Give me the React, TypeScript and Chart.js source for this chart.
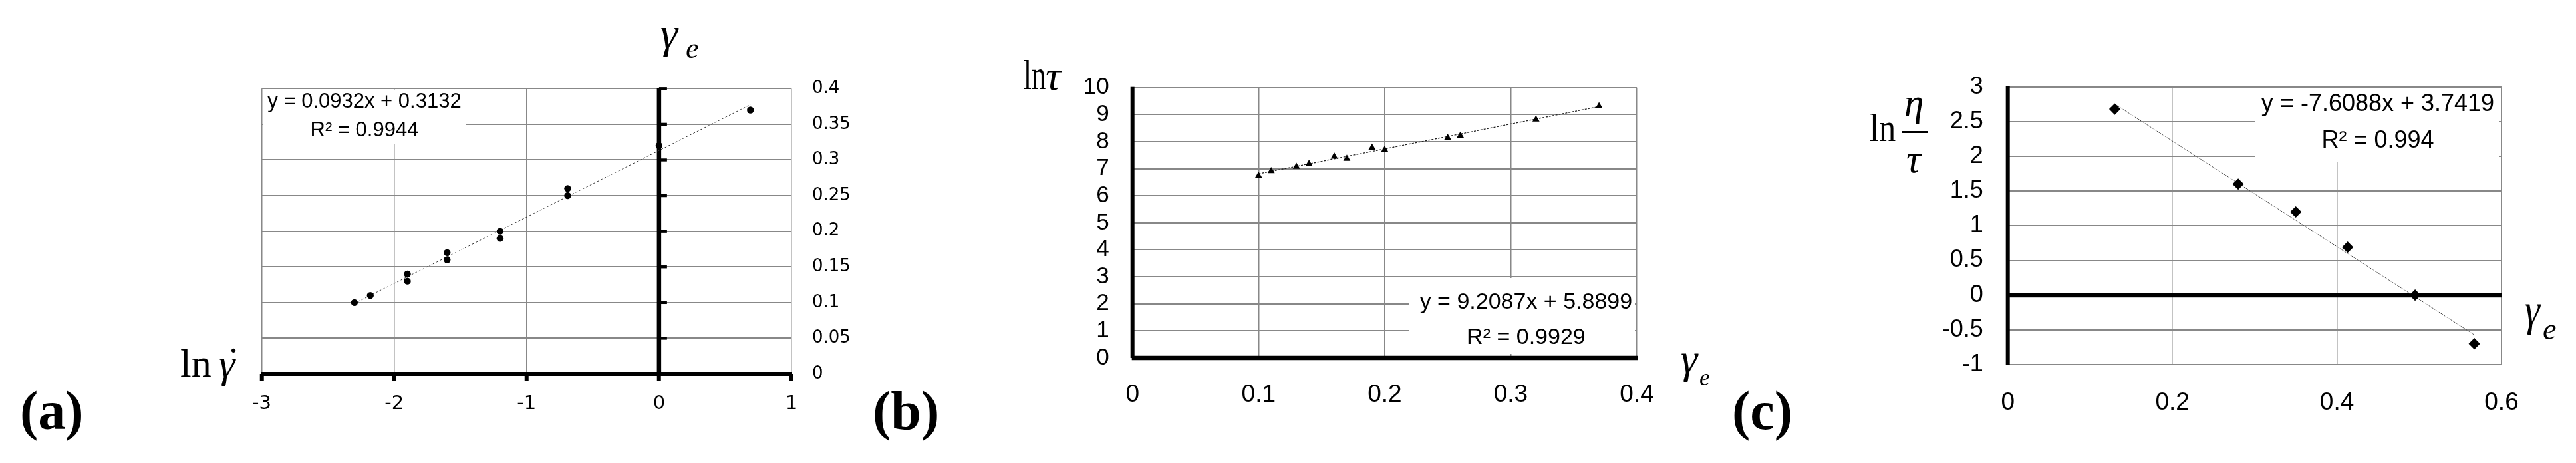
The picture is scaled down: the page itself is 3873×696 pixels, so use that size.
import React, { useEffect, useRef } from 'react';
import { Chart, registerables } from 'chart.js';

Chart.register(...registerables);

// ---------------- data ----------------
// (a) ln(shear rate) vs gamma_e
const lnShearRate = [-2.3, -2.18, -1.9, -1.9, -1.6, -1.6, -1.2, -1.2, -0.69, -0.69, 0, 0.69];
const gammaA = [0.1, 0.11, 0.13, 0.14, 0.16, 0.17, 0.19, 0.2, 0.25, 0.26, 0.32, 0.37];
const trendA = [0.0932, 0.3132];
const eqA = ['y = 0.0932x + 0.3132', 'R² = 0.9944'];
const xAxisA = [-3, 1, 1];
const yAxisA = [0, 0.4, 0.05];

// (b) gamma_e vs ln(tau)
const gammaB = [0.1, 0.11, 0.13, 0.14, 0.16, 0.17, 0.19, 0.2, 0.25, 0.26, 0.32, 0.37];
const lnTau = [6.74, 6.91, 7.07, 7.18, 7.45, 7.37, 7.78, 7.7, 8.14, 8.22, 8.82, 9.31];
const trendB = [9.2087, 5.8899];
const eqB = ['y = 9.2087x + 5.8899', 'R² = 0.9929'];
const xAxisB = [0, 0.4, 0.1];
const yAxisB = [0, 10, 1];

// (c) gamma_e vs ln(eta/tau)
const gammaC = [0.13, 0.28, 0.35, 0.413, 0.495, 0.567];
const lnEtaTau = [2.68, 1.6, 1.2, 0.69, 0.0, -0.7];
const trendC = [-7.6088, 3.7419];
const eqC = ['y = -7.6088x + 3.7419', 'R² = 0.994'];
const xAxisC = [0, 0.6, 0.2];
const yAxisC = [-1, 3, 0.5];

// ---------------- helpers ----------------
const GRID = '#888888';
const SANS = '"Liberation Sans", Arial, sans-serif';
const DEJAVU = '"DejaVu Sans", sans-serif';
const SERIF = '"Liberation Serif", "Times New Roman", serif';

const fmt = (v: any) => String(Math.round(Number(v) * 1000) / 1000);

type Spec = {
  width: number;
  xs: number[];
  ys: number[];
  trend: number[];
  eq: string[];
  xAxis: number[];
  yAxis: number[];
  yPos: 'left' | 'right';
  pad: { left: number; right: number; top: number; bottom: number };
  xH: number;
  yW: number;
  xFont: { family: string; size: number };
  yFont: { family: string; size: number };
  xPad: number;
  yPad: number;
  xTickMarks: boolean;
  pointStyle: string;
  pointRadius: number;
  trendStyle: { color: string; width: number; dash: number[] };
  vAxis: { at: number; w: number };
  hAxis: { at: number; w: number };
  yAxisMarks: boolean;
  eqFont: number;
  eqCx: number;
  eqYs: number[];
  eqBox: number[];
};

const overlay = (s: Spec) => ({
  id: 'overlay',
  beforeDatasetsDraw(chart: any) {
    const { ctx, chartArea: ca, scales } = chart;
    const xS = scales.x;
    const yS = scales.y;
    ctx.save();
    // trend-line equation box
    const [bx0, by0, bx1, by1] = s.eqBox;
    ctx.fillStyle = '#ffffff';
    ctx.fillRect(bx0, by0, bx1 - bx0, by1 - by0);
    ctx.fillStyle = '#000000';
    ctx.font = `${s.eqFont}px ${SANS}`;
    ctx.textAlign = 'center';
    ctx.textBaseline = 'middle';
    s.eq.forEach((t, i) => ctx.fillText(t, s.eqCx, s.eqYs[i]));
    // thick axes
    const x0 = xS.getPixelForValue(s.vAxis.at);
    const y0 = yS.getPixelForValue(s.hAxis.at);
    ctx.fillRect(x0 - s.vAxis.w / 2, ca.top - 1, s.vAxis.w, ca.bottom - ca.top + 1);
    ctx.fillRect(ca.left - 1, y0 - s.hAxis.w / 2, ca.right - ca.left + 2, s.hAxis.w);
    if (s.yAxisMarks) {
      yS.ticks.forEach((t: any) => {
        if (t.value === s.hAxis.at) return;
        const y = yS.getPixelForValue(t.value);
        ctx.fillRect(x0, y - 2.2, 12, 4.4);
      });
    }
    ctx.restore();
  },
});

function config(s: Spec): any {
  const minX = Math.min(...s.xs);
  const maxX = Math.max(...s.xs);
  const zeroPad = (sc: any) => {
    sc.paddingLeft = 0;
    sc.paddingRight = 0;
    sc.paddingTop = 0;
    sc.paddingBottom = 0;
  };
  return {
    type: 'scatter',
    data: {
      datasets: [
        {
          data: s.xs.map((x, i) => ({ x, y: s.ys[i] })),
          pointStyle: s.pointStyle,
          pointRadius: s.pointRadius,
          pointBackgroundColor: '#000',
          pointBorderColor: '#000',
          pointBorderWidth: 0,
          showLine: false,
        },
        {
          data: [minX, maxX].map((x) => ({ x, y: s.trend[0] * x + s.trend[1] })),
          showLine: true,
          borderColor: s.trendStyle.color,
          borderWidth: s.trendStyle.width,
          borderDash: s.trendStyle.dash,
          pointRadius: 0,
          fill: false,
        },
      ],
    },
    options: {
      responsive: false,
      animation: false,
      events: [],
      layout: { padding: s.pad, autoPadding: false },
      plugins: { legend: { display: false }, tooltip: { enabled: false } },
      scales: {
        x: {
          type: 'linear',
          position: 'bottom',
          min: s.xAxis[0],
          max: s.xAxis[1],
          ticks: {
            stepSize: s.xAxis[2],
            callback: fmt,
            color: '#000',
            font: s.xFont,
            padding: s.xPad,
            autoSkip: false,
            maxRotation: 0,
          },
          grid: {
            color: GRID,
            lineWidth: 1.5,
            drawTicks: s.xTickMarks,
            tickLength: 10,
            tickWidth: 6,
            tickColor: '#000',
          },
          border: { display: false },
          afterFit: (sc: any) => {
            sc.height = s.xH;
            zeroPad(sc);
          },
        },
        y: {
          type: 'linear',
          position: s.yPos,
          min: s.yAxis[0],
          max: s.yAxis[1],
          ticks: {
            stepSize: s.yAxis[2],
            callback: fmt,
            color: '#000',
            font: s.yFont,
            padding: s.yPad,
            autoSkip: false,
          },
          grid: { color: GRID, lineWidth: 2, drawTicks: false },
          border: { display: false },
          afterFit: (sc: any) => {
            sc.width = s.yW;
            zeroPad(sc);
          },
        },
      },
    },
    plugins: [overlay(s)],
  };
}

const specA: Spec = {
  width: 1050,
  xs: lnShearRate,
  ys: gammaA,
  trend: trendA,
  eq: eqA,
  xAxis: xAxisA,
  yAxis: yAxisA,
  yPos: 'right',
  pad: { left: 143.5, right: 10, top: 133.3, bottom: 14 },
  xH: 120,
  yW: 100,
  xFont: { family: DEJAVU, size: 29 },
  yFont: { family: DEJAVU, size: 26 },
  xPad: 17.6,
  yPad: 31,
  xTickMarks: true,
  pointStyle: 'circle',
  pointRadius: 5.2,
  trendStyle: { color: '#333', width: 1, dash: [3, 3] },
  vAxis: { at: 0, w: 6.5 },
  hAxis: { at: 0, w: 6 },
  yAxisMarks: true,
  eqFont: 31,
  eqCx: 298,
  eqYs: [153, 196],
  eqBox: [146, 135, 451, 216],
};

const specB: Spec = {
  width: 1300,
  xs: gammaB,
  ys: lnTau,
  trend: trendB,
  eq: eqB,
  xAxis: xAxisB,
  yAxis: yAxisB,
  yPos: 'left',
  pad: { left: 302.7, right: 139, top: 131.7, bottom: 28 },
  xH: 130,
  yW: 100,
  xFont: { family: SANS, size: 37 },
  yFont: { family: SANS, size: 35 },
  xPad: 33.8,
  yPad: 35,
  xTickMarks: false,
  pointStyle: 'triangle',
  pointRadius: 6.2,
  trendStyle: { color: '#222', width: 1.3, dash: [3, 2] },
  vAxis: { at: 0, w: 6 },
  hAxis: { at: 0, w: 6.5 },
  yAxisMarks: false,
  eqFont: 34,
  eqCx: 994.4,
  eqYs: [455, 508],
  eqBox: [819, 418, 1158, 532],
};

const specC: Spec = {
  width: 1273,
  xs: gammaC,
  ys: lnEtaTau,
  trend: trendC,
  eq: eqC,
  xAxis: xAxisC,
  yAxis: yAxisC,
  yPos: 'left',
  pad: { left: 318.7, right: 112, top: 130.7, bottom: 18 },
  xH: 130,
  yW: 100,
  xFont: { family: SANS, size: 37 },
  yFont: { family: SANS, size: 36 },
  xPad: 35.8,
  yPad: 37,
  xTickMarks: false,
  pointStyle: 'rectRot',
  pointRadius: 8.6,
  trendStyle: { color: '#444', width: 1, dash: [2, 1] },
  vAxis: { at: 0, w: 6 },
  hAxis: { at: 0, w: 7 },
  yAxisMarks: false,
  eqFont: 36,
  eqCx: 975,
  eqYs: [157.5, 212.5],
  eqBox: [790, 133, 1157, 243],
};

function Panel({ left, spec }: { left: number; spec: Spec }) {
  const ref = useRef<HTMLCanvasElement>(null);
  useEffect(() => {
    const chart = new Chart(ref.current as HTMLCanvasElement, config(spec));
    return () => chart.destroy();
  }, []);
  return (
    <canvas
      ref={ref}
      width={spec.width}
      height={696}
      style={{ position: 'absolute', left, top: 0, width: spec.width, height: 696 }}
    />
  );
}

function Txt(props: {
  x: number;
  base: number;
  size: number;
  italic?: boolean;
  bold?: boolean;
  sx?: number;
  children: any;
}) {
  const { x, base, size, italic, bold, sx = 1, children } = props;
  return (
    <div
      style={{
        position: 'absolute',
        left: x,
        top: base - 0.8375 * size,
        fontFamily: SERIF,
        fontSize: size,
        lineHeight: `${size}px`,
        fontStyle: italic ? 'italic' : 'normal',
        fontWeight: bold ? 700 : 400,
        whiteSpace: 'nowrap',
        color: '#000',
        transform: sx !== 1 ? `scaleX(${sx})` : undefined,
        transformOrigin: '0 0',
      }}
    >
      {children}
    </div>
  );
}

export default function App() {
  return (
    <div
      style={{
        position: 'fixed',
        left: 0,
        top: 0,
        width: 3873,
        height: 696,
        background: '#fff',
        overflow: 'hidden',
      }}
    >
      <Panel left={250} spec={specA} />
      <Panel left={1300} spec={specB} />
      <Panel left={2600} spec={specC} />

      {/* panel letters */}
      <Txt x={30} base={646} size={82} bold>(a)</Txt>
      <Txt x={1312} base={646} size={82} bold>(b)</Txt>
      <Txt x={2604} base={646} size={82} bold>(c)</Txt>

      {/* (a) axis titles */}
      <Txt x={993} base={72} size={66} italic>γ</Txt>
      <Txt x={1031} base={88} size={44} italic>e</Txt>
      <Txt x={271} base={566.5} size={60}>ln</Txt>
      <Txt x={329} base={566.5} size={62} italic>γ</Txt>
      <Txt x={341} base={563} size={60}>˙</Txt>

      {/* (b) axis titles */}
      <Txt x={1539} base={135} size={63} sx={0.68}>ln</Txt>
      <Txt x={1572} base={136} size={63} italic>τ</Txt>
      <Txt x={2527} base={561} size={64} italic>γ</Txt>
      <Txt x={2555} base={579} size={35} italic>e</Txt>

      {/* (c) axis titles */}
      <Txt x={2811} base={212.7} size={60} sx={0.84}>ln</Txt>
      <Txt x={2863} base={174} size={59} italic>η</Txt>
      <div style={{ position: 'absolute', left: 2860, top: 197, width: 38, height: 2.6, background: '#000' }} />
      <Txt x={2866} base={259} size={60} italic>τ</Txt>
      <Txt x={3796} base={489} size={68} italic sx={0.85}>γ</Txt>
      <Txt x={3823} base={511} size={46} italic>e</Txt>
    </div>
  );
}
